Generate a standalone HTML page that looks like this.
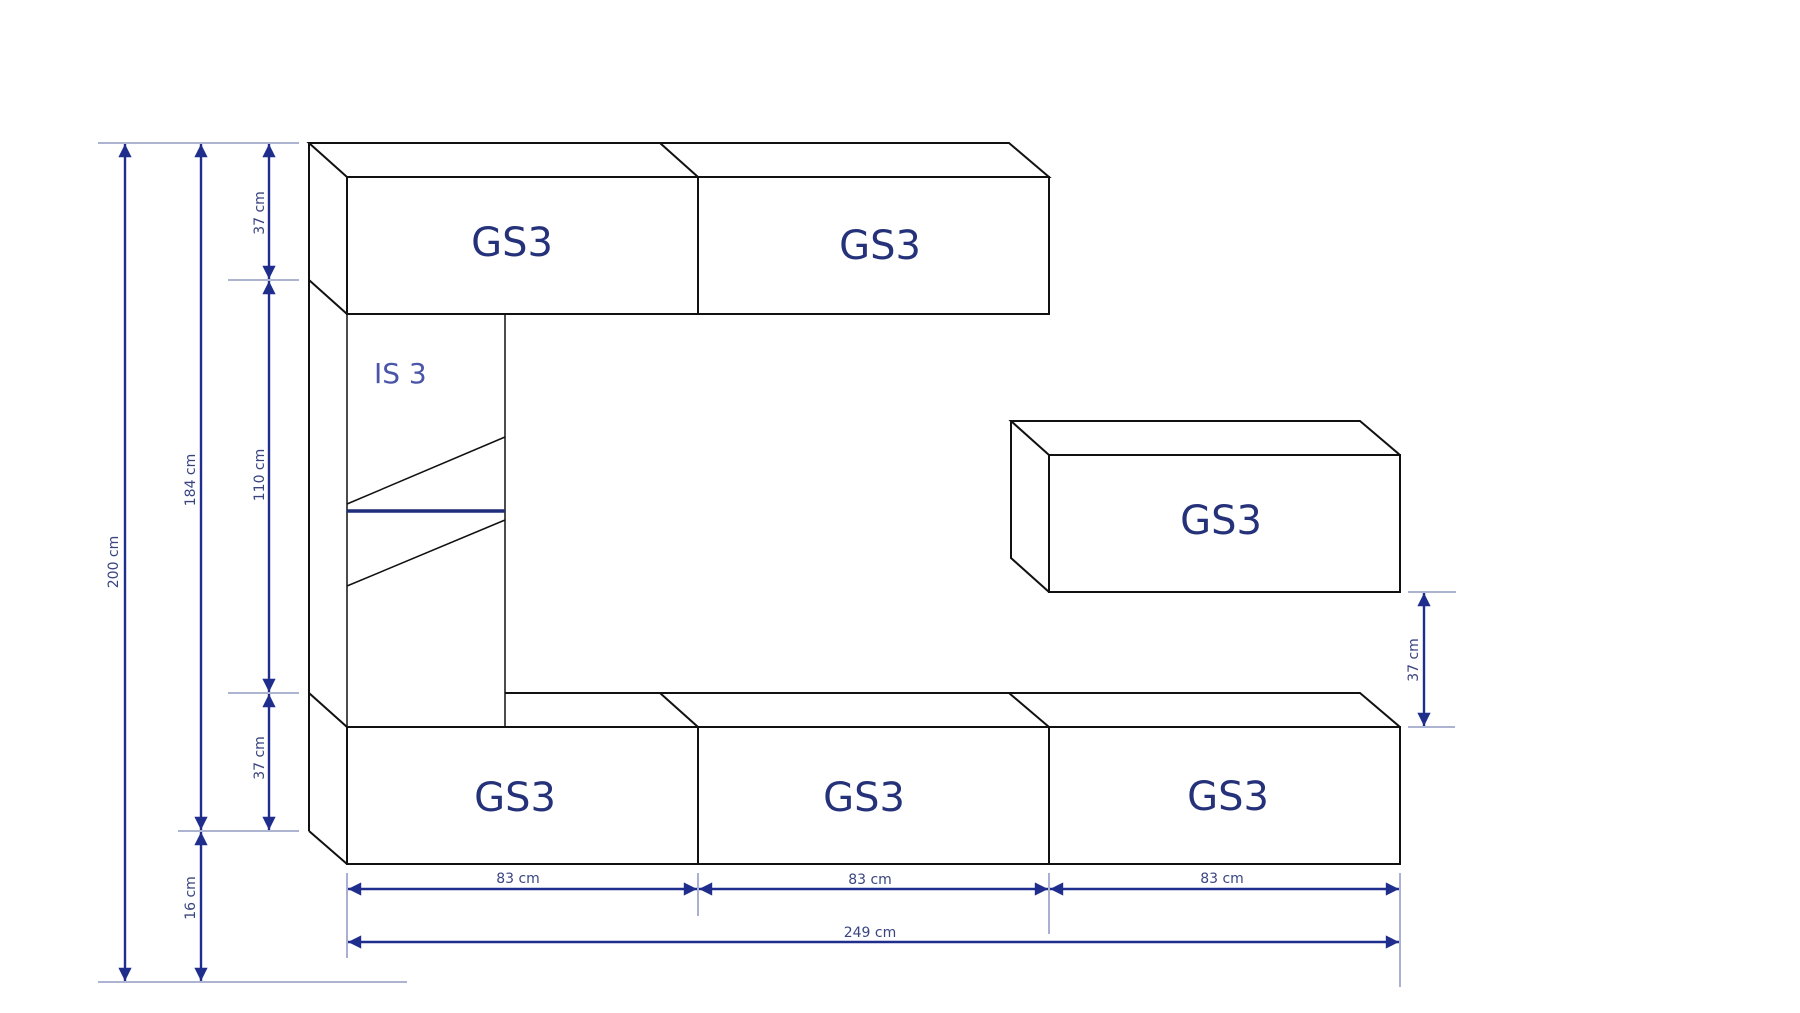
<!DOCTYPE html>
<html><head><meta charset="utf-8"><style>
html,body{margin:0;padding:0;background:#fff;}
svg{display:block;}
.k{stroke:#111;stroke-width:2;fill:none;}
.e{stroke:#7b86b8;stroke-width:1.3;}
.d{stroke:#1f2d8c;stroke-width:2.4;}
.g{font-family:"DejaVu Sans","Liberation Sans",sans-serif;fill:#25327a;font-size:40px;text-anchor:middle;}
.t{font-family:"DejaVu Sans","Liberation Sans",sans-serif;fill:#3a4580;font-size:14px;text-anchor:middle;}
</style></head><body>
<svg width="1800" height="1013" viewBox="0 0 1800 1013" xmlns="http://www.w3.org/2000/svg">
<defs>
<marker id="a" viewBox="0 0 10 10" refX="10" refY="5" markerWidth="6" markerHeight="5.5" orient="auto-start-reverse" markerUnits="strokeWidth"><path d="M0,0 L10,5 L0,10 z" fill="#1f2d8c"/></marker>
</defs>
<!-- top boxes -->
<path class="k" d="M309,143 L1009,143 L1049,177 L347,177 Z"/>
<line class="k" x1="660" y1="143" x2="698" y2="177"/>
<rect class="k" x="347" y="177" width="702" height="137"/>
<line class="k" x1="698" y1="177" x2="698" y2="314"/>
<!-- left side panel -->
<line class="k" x1="309" y1="143" x2="309" y2="831"/>
<line class="k" x1="309" y1="280" x2="347" y2="314"/>
<line class="k" x1="309" y1="693" x2="347" y2="727"/>
<line class="k" x1="309" y1="831" x2="347" y2="864"/>
<!-- IS3 column -->
<line class="k" x1="347" y1="314" x2="347" y2="727" style="stroke-width:1.5"/>
<line class="k" x1="505" y1="314" x2="505" y2="727" style="stroke-width:1.5"/>
<line class="k" x1="347" y1="504" x2="505" y2="437" style="stroke-width:1.5"/>
<line class="k" x1="347" y1="586" x2="505" y2="520" style="stroke-width:1.5"/>
<line x1="347" y1="511" x2="505" y2="511" stroke="#1f2d7a" stroke-width="3.5"/>
<!-- bottom row -->
<path class="k" d="M505,693 L1360,693 L1400,727"/>
<line class="k" x1="660" y1="693" x2="698" y2="727"/>
<line class="k" x1="1009" y1="693" x2="1049" y2="727"/>
<rect class="k" x="347" y="727" width="1053" height="137"/>
<line class="k" x1="698" y1="727" x2="698" y2="864"/>
<line class="k" x1="1049" y1="727" x2="1049" y2="864"/>
<!-- right box -->
<path class="k" d="M1049,455 L1011,421 L1360,421 L1400,455"/>
<path class="k" d="M1011,421 L1011,558 L1049,592"/>
<rect class="k" x="1049" y="455" width="351" height="137"/>
<!-- labels -->
<text class="g" x="512" y="256">GS3</text>
<text class="g" x="880" y="259">GS3</text>
<text class="g" x="1221" y="534">GS3</text>
<text class="g" x="515" y="811">GS3</text>
<text class="g" x="864" y="811">GS3</text>
<text class="g" x="1228" y="810">GS3</text>
<text x="374" y="383" font-family="'DejaVu Sans','Liberation Sans',sans-serif" font-size="28" fill="#4a55a8">IS 3</text>
<!-- extension lines -->
<line class="e" x1="98" y1="143" x2="299" y2="143"/>
<line class="e" x1="228" y1="280" x2="299" y2="280"/>
<line class="e" x1="228" y1="693" x2="299" y2="693"/>
<line class="e" x1="178" y1="831" x2="299" y2="831"/>
<line class="e" x1="98" y1="982" x2="407" y2="982"/>
<line class="e" x1="1408" y1="592" x2="1456" y2="592"/>
<line class="e" x1="1408" y1="727" x2="1455" y2="727"/>
<line class="e" x1="347" y1="873" x2="347" y2="958"/>
<line class="e" x1="698" y1="873" x2="698" y2="916"/>
<line class="e" x1="1049" y1="873" x2="1049" y2="934"/>
<line class="e" x1="1400" y1="873" x2="1400" y2="987"/>
<!-- dimension arrows -->
<line class="d" x1="125" y1="144" x2="125" y2="981" marker-start="url(#a)" marker-end="url(#a)"/>
<line class="d" x1="201" y1="144" x2="201" y2="830" marker-start="url(#a)" marker-end="url(#a)"/>
<line class="d" x1="201" y1="832" x2="201" y2="981" marker-start="url(#a)" marker-end="url(#a)"/>
<line class="d" x1="269" y1="144" x2="269" y2="279" marker-start="url(#a)" marker-end="url(#a)"/>
<line class="d" x1="269" y1="281" x2="269" y2="692" marker-start="url(#a)" marker-end="url(#a)"/>
<line class="d" x1="269" y1="694" x2="269" y2="830" marker-start="url(#a)" marker-end="url(#a)"/>
<line class="d" x1="1424" y1="593" x2="1424" y2="726" marker-start="url(#a)" marker-end="url(#a)"/>
<line class="d" x1="348" y1="889" x2="697" y2="889" marker-start="url(#a)" marker-end="url(#a)"/>
<line class="d" x1="699" y1="889" x2="1048" y2="889" marker-start="url(#a)" marker-end="url(#a)"/>
<line class="d" x1="1050" y1="889" x2="1399" y2="889" marker-start="url(#a)" marker-end="url(#a)"/>
<line class="d" x1="348" y1="942" x2="1399" y2="942" marker-start="url(#a)" marker-end="url(#a)"/>
<!-- dimension texts -->
<text class="t" transform="translate(118,562) rotate(-90)">200 cm</text>
<text class="t" transform="translate(195,480) rotate(-90)">184 cm</text>
<text class="t" transform="translate(264,475) rotate(-90)">110 cm</text>
<text class="t" transform="translate(264,213) rotate(-90)">37 cm</text>
<text class="t" transform="translate(264,758) rotate(-90)">37 cm</text>
<text class="t" transform="translate(195,898) rotate(-90)">16 cm</text>
<text class="t" transform="translate(1418,660) rotate(-90)">37 cm</text>
<text class="t" x="518" y="883">83 cm</text>
<text class="t" x="870" y="884">83 cm</text>
<text class="t" x="1222" y="883">83 cm</text>
<text class="t" x="870" y="937">249 cm</text>
</svg>
</body></html>
